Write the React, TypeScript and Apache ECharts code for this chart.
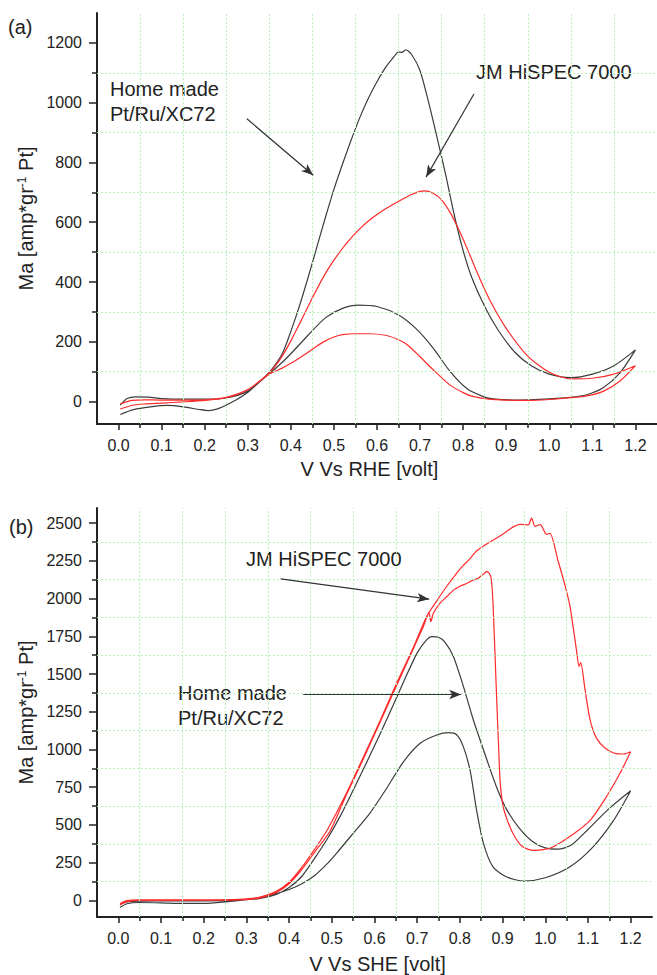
import React, { useEffect, useRef } from 'react';
import * as echarts from 'echarts';

const xTicks = [0, 0.1, 0.2, 0.3, 0.4, 0.5, 0.6, 0.7, 0.8, 0.9, 1.0, 1.1, 1.2];
const xMinor = [0.05, 0.15, 0.25, 0.35, 0.45, 0.55, 0.65, 0.75, 0.85, 0.95, 1.05, 1.15];
const aYTicks = [0, 200, 400, 600, 800, 1000, 1200];
const aYMinor = [100, 300, 500, 700, 900, 1100];
const bYTicks = [0, 250, 500, 750, 1000, 1250, 1500, 1750, 2000, 2250, 2500];
const bYMinor = [125, 375, 625, 875, 1125, 1375, 1625, 1875, 2125, 2375];

// Panel (a): Home made Pt/Ru/XC72 (black), JM HiSPEC 7000 (red) — V vs RHE
const aBlack: number[][] = [
  [0.004, -43], [0.035, -27], [0.074, -18], [0.112, -13], [0.151, -18], [0.19, -27], [0.209, -30],
  [0.236, -21], [0.267, 1], [0.298, 29], [0.329, 68], [0.352, 101], [0.38, 160], [0.4, 235],
  [0.42, 320], [0.44, 415], [0.46, 515], [0.48, 615], [0.5, 710], [0.52, 795], [0.54, 875],
  [0.56, 950], [0.58, 1015], [0.6, 1070], [0.62, 1118], [0.64, 1155], [0.65, 1170], [0.658, 1168],
  [0.667, 1177], [0.68, 1162], [0.7, 1107], [0.72, 1000], [0.74, 880], [0.76, 755], [0.78, 620],
  [0.8, 505], [0.82, 415], [0.85, 318], [0.88, 242], [0.92, 165], [0.96, 118], [1.0, 92], [1.05, 80],
  [1.1, 92], [1.15, 120], [1.2, 173],
  [1.164, 96], [1.125, 46], [1.087, 23], [1.048, 14], [1.0, 9], [0.93, 5], [0.87, 9], [0.85, 15],
  [0.81, 42], [0.77, 100], [0.73, 180], [0.69, 245], [0.65, 290], [0.6, 318], [0.557, 323],
  [0.52, 312], [0.48, 280], [0.44, 222], [0.4, 160], [0.37, 118], [0.344, 86], [0.3, 35], [0.25, 12],
  [0.2, 8], [0.15, 8], [0.1, 10], [0.07, 15], [0.04, 16], [0.02, 10], [0.004, -12],
];
const aRed: number[][] = [
  [0.004, -25], [0.03, -13], [0.06, -8], [0.1, -5], [0.15, -1], [0.2, 4], [0.25, 13], [0.3, 40],
  [0.344, 88], [0.36, 112], [0.38, 152], [0.4, 203], [0.42, 260], [0.44, 318], [0.46, 375],
  [0.48, 428], [0.5, 473], [0.52, 513], [0.54, 548], [0.56, 578], [0.58, 604], [0.6, 626],
  [0.62, 645], [0.64, 662], [0.66, 678], [0.68, 693], [0.7, 703], [0.71, 705], [0.73, 697],
  [0.75, 675], [0.77, 632], [0.79, 575], [0.81, 510], [0.83, 440], [0.86, 345], [0.9, 245],
  [0.95, 152], [1.0, 98], [1.05, 76], [1.1, 78], [1.15, 92], [1.2, 120],
  [1.165, 70], [1.125, 34], [1.09, 20], [1.05, 13], [1.0, 7], [0.95, 4], [0.9, 5], [0.86, 8],
  [0.82, 18], [0.8, 30], [0.77, 55], [0.735, 100], [0.7, 150], [0.67, 190], [0.65, 207], [0.62, 222],
  [0.58, 227], [0.55, 227], [0.52, 224], [0.5, 216], [0.48, 203], [0.46, 185], [0.44, 165],
  [0.42, 146], [0.4, 128], [0.38, 112], [0.35, 92], [0.3, 40], [0.25, 14], [0.2, 6], [0.15, 5],
  [0.1, 5], [0.06, 6], [0.03, 4], [0.004, -8],
];

// Panel (b): V vs SHE
const bBlack: number[][] = [
  [0.004, -28], [0.02, -10], [0.05, -5], [0.1, -4], [0.2, -3], [0.28, 2], [0.33, 12], [0.37, 40],
  [0.4, 85], [0.43, 160], [0.46, 280], [0.49, 410], [0.52, 560], [0.55, 730], [0.58, 905],
  [0.61, 1085], [0.64, 1270], [0.67, 1460], [0.7, 1640], [0.72, 1720], [0.734, 1748], [0.75, 1744],
  [0.765, 1712], [0.785, 1615], [0.808, 1420], [0.831, 1200], [0.858, 975], [0.886, 750], [0.91, 600],
  [0.94, 475], [0.97, 390], [1.0, 348], [1.03, 340], [1.06, 365], [1.1, 470], [1.15, 610], [1.2, 727],
  [1.16, 530], [1.112, 355], [1.058, 223], [1.0, 150], [0.95, 128], [0.91, 155], [0.878, 220],
  [0.855, 380], [0.839, 600], [0.824, 860], [0.808, 1019], [0.793, 1096], [0.773, 1111],
  [0.746, 1096], [0.707, 1041], [0.667, 915], [0.629, 745], [0.589, 577], [0.55, 444], [0.511, 312],
  [0.49, 245], [0.46, 165], [0.43, 110], [0.4, 72], [0.37, 45], [0.33, 18], [0.3, 5], [0.25, -10],
  [0.2, -20], [0.15, -20], [0.1, -16], [0.05, -14], [0.02, -22], [0.004, -46],
];
const bRed: number[][] = [
  [0.004, -22], [0.02, -2], [0.05, 3], [0.1, 3], [0.2, 4], [0.28, 7], [0.33, 20], [0.37, 60],
  [0.4, 120], [0.43, 220], [0.46, 340], [0.49, 470], [0.535, 715], [0.574, 950], [0.613, 1190],
  [0.652, 1440], [0.691, 1676], [0.722, 1880], [0.746, 1985], [0.769, 2080], [0.793, 2170],
  [0.808, 2220], [0.824, 2265], [0.839, 2315], [0.871, 2375], [0.902, 2430], [0.925, 2475],
  [0.941, 2492], [0.96, 2488], [0.968, 2533], [0.976, 2478], [0.988, 2490], [1.003, 2425],
  [1.011, 2432], [1.03, 2250], [1.045, 2100], [1.058, 1947], [1.074, 1640], [1.079, 1550],
  [1.083, 1575], [1.093, 1400], [1.105, 1196], [1.12, 1075], [1.14, 1010], [1.167, 972],
  [1.183, 970], [1.2, 985],
  [1.175, 842], [1.144, 690], [1.105, 530], [1.066, 440], [1.019, 356], [0.995, 336], [0.97, 332],
  [0.945, 360], [0.925, 440], [0.91, 540], [0.9, 640], [0.894, 800], [0.891, 1000], [0.888, 1200],
  [0.884, 1500], [0.88, 1800], [0.876, 2050], [0.872, 2150], [0.863, 2180], [0.855, 2162],
  [0.843, 2135], [0.831, 2122], [0.816, 2100], [0.8, 2082], [0.785, 2056], [0.769, 2012],
  [0.753, 1968], [0.738, 1903], [0.732, 1847], [0.728, 1903], [0.714, 1812], [0.691, 1668],
  [0.652, 1425], [0.613, 1180], [0.574, 938], [0.535, 705], [0.496, 460], [0.46, 320], [0.43, 205],
  [0.4, 110], [0.37, 52], [0.33, 15], [0.28, 3], [0.2, 1], [0.1, 0], [0.05, 0], [0.02, -8], [0.004, -28],
];

// Annotation arrows (data coordinates: start, tip)
const aArrowHome = [[0.298, 946], [0.452, 757]];
const aArrowJM = [[0.825, 1029], [0.714, 751]];
const bArrowJM = [[0.38, 2131], [0.728, 1996]];
const bArrowHome = [[0.433, 1364], [0.803, 1364]];

const FONT = 'Liberation Sans, Arial, Helvetica, sans-serif';
const INK = '#222';
const BLACK_LINE = '#3c3c3c';
const RED_LINE = '#ff2a2a';
const GRID_GREEN = '#bcf3bc';

function mainX(gridIndex: number, name: string, nameGap: number, pad: number[]) {
  return {
    type: 'value', gridIndex, min: -0.05, max: 1.25, position: 'bottom',
    axisLine: { show: true, onZero: false, lineStyle: { color: INK, width: 2 } },
    axisTick: { show: true, inside: false, length: 6, customValues: xTicks, lineStyle: { color: INK, width: 1.5 } },
    axisLabel: { show: true, customValues: xTicks, margin: 13, fontSize: 16, color: INK, fontFamily: FONT,
      formatter: (v: number) => v.toFixed(1) },
    splitLine: { show: false },
    name, nameLocation: 'middle', nameGap,
    nameTextStyle: { fontSize: 20, color: INK, fontFamily: FONT, padding: pad },
  };
}
function minorX(gridIndex: number) {
  return {
    type: 'value', gridIndex, min: -0.05, max: 1.25, position: 'bottom',
    axisLine: { show: false, onZero: false },
    axisTick: { show: true, inside: false, length: 4, customValues: xMinor, lineStyle: { color: INK, width: 1.5 } },
    axisLabel: { show: false },
    splitLine: { show: false },
  };
}
function mainY(gridIndex: number, min: number, max: number, ticks: number[]) {
  return {
    type: 'value', gridIndex, min, max, position: 'left',
    axisLine: { show: true, onZero: false, lineStyle: { color: INK, width: 2 } },
    axisTick: { show: true, inside: false, length: 8, customValues: ticks, lineStyle: { color: INK, width: 1.5 } },
    axisLabel: { show: true, customValues: ticks, margin: 15, fontSize: 16, color: INK, fontFamily: FONT,
      formatter: (v: number) => String(v) },
    splitLine: { show: false },
    name: 'Ma [amp*gr{sup|-1} Pt]', nameLocation: 'middle', nameGap: 46, nameRotate: 90,
    nameTextStyle: { fontSize: 20, color: INK, fontFamily: FONT,
      rich: { sup: { fontSize: 12, color: INK, fontFamily: FONT, verticalAlign: 'top' } } },
  };
}
function minorY(gridIndex: number, min: number, max: number, ticks: number[]) {
  return {
    type: 'value', gridIndex, min, max, position: 'left',
    axisLine: { show: false, onZero: false },
    axisTick: { show: true, inside: false, length: 5, customValues: ticks, lineStyle: { color: INK, width: 1.5 } },
    axisLabel: { show: false },
    splitLine: { show: false },
  };
}

function gridSeries(xi: number, yi: number, gx: number[], gy: number[]) {
  return {
    type: 'line', xAxisIndex: xi, yAxisIndex: yi, data: [], z: 1, silent: true,
    markLine: {
      silent: true, symbol: ['none', 'none'], label: { show: false }, animation: false,
      lineStyle: { color: GRID_GREEN, type: [2, 2], width: 1 },
      emphasis: { disabled: true },
      data: [...gx.map((v) => ({ xAxis: v })), ...gy.map((v) => ({ yAxis: v }))],
    },
  };
}
function curve(xi: number, yi: number, data: number[][], color: string) {
  return {
    type: 'line', xAxisIndex: xi, yAxisIndex: yi, data, z: 2, silent: true,
    showSymbol: false, symbol: 'none', smooth: 0.25,
    lineStyle: { color, width: 1.2 },
  };
}
function arrows(xi: number, yi: number, list: number[][][]) {
  return {
    type: 'line', xAxisIndex: xi, yAxisIndex: yi, data: [], z: 3, silent: true,
    markLine: {
      silent: true, symbol: ['none', 'arrow'], symbolSize: [7, 12], label: { show: false }, animation: false,
      emphasis: { disabled: true },
      lineStyle: { color: '#333', type: 'solid', width: 1.2 },
      data: list.map((a) => [{ coord: a[0] }, { coord: a[1] }]),
    },
  };
}

function txt(x: number, y: number, s: string) {
  return {
    type: 'text', x, y, silent: true,
    style: { text: s, fontSize: 20, fontFamily: FONT, fill: INK, verticalAlign: 'middle', align: 'left' },
  };
}

export default function App() {
  const ref = useRef<HTMLDivElement>(null);
  useEffect(() => {
    if (!ref.current) return;
    const chart = echarts.init(ref.current, undefined, { renderer: 'svg' });
    const option: any = {
      animation: false,
      backgroundColor: '#ffffff',
      textStyle: { fontFamily: FONT },
      grid: [
        { left: 97, top: 13, width: 560, height: 411 },
        { left: 97, top: 508, width: 555, height: 409 },
      ],
      xAxis: [
        mainX(0, 'V Vs RHE [volt]', 35, [0, 15, 0, 0]),
        minorX(0),
        mainX(1, 'V Vs SHE [volt]', 37, [0, 0, 0, 6]),
        minorX(1),
      ],
      yAxis: [
        mainY(0, -75, 1300, aYTicks),
        minorY(0, -75, 1300, aYMinor),
        mainY(1, -110, 2600, bYTicks),
        minorY(1, -110, 2600, bYMinor),
      ],
      series: [
        gridSeries(0, 0, xMinor, aYMinor),
        curve(0, 0, aBlack, BLACK_LINE),
        curve(0, 0, aRed, RED_LINE),
        arrows(0, 0, [aArrowHome, aArrowJM]),
        gridSeries(2, 2, xMinor, bYMinor),
        curve(2, 2, bBlack, BLACK_LINE),
        curve(2, 2, bRed, RED_LINE),
        arrows(2, 2, [bArrowJM, bArrowHome]),
      ],
      graphic: [
        txt(8, 27, '(a)'),
        txt(110, 89, 'Home made'),
        txt(110, 114, 'Pt/Ru/XC72'),
        txt(476, 72, 'JM HiSPEC 7000'),
        txt(9, 527, '(b)'),
        txt(246, 559, 'JM HiSPEC 7000'),
        txt(178, 693, 'Home made'),
        txt(178, 718, 'Pt/Ru/XC72'),
      ],
    };
    chart.setOption(option);
    return () => chart.dispose();
  }, []);
  return (
    <div
      ref={ref}
      style={{ position: 'absolute', left: 0, top: 0, width: 657, height: 975, background: '#fff' }}
    />
  );
}
